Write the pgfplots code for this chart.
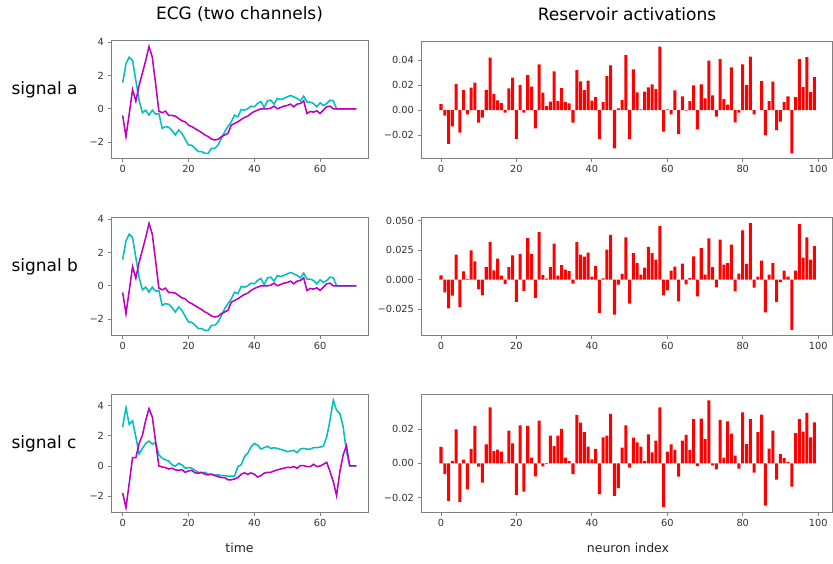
\documentclass[border=0pt]{standalone}
\usepackage{fontspec}
\setmainfont{DejaVu Sans}
\usepackage{pgfplots}
\usepackage{pgfplotstable}
\pgfplotsset{compat=1.18}

\definecolor{ecgcyan}{rgb}{0,0.75,0.75}
\definecolor{ecgmag}{rgb}{0.75,0,0.75}
\definecolor{spine}{gray}{0.5}
\definecolor{ticklab}{gray}{0.2}

% ECG samples: a1/a2 = channels of signal a (signal b uses the same trace), c1/c2 = signal c
\pgfplotstableread{
t a1 a2 c1 c2
0 1.57 -0.40 2.59 -1.80
1 2.70 -1.67 3.85 -2.75
2 3.10 -0.28 2.75 -1.14
3 2.90 1.15 2.99 0.55
4 1.70 0.46 1.93 0.55
5 0.50 1.41 0.79 1.49
6 -0.24 2.15 1.16 2.04
7 -0.08 2.90 1.49 3.03
8 -0.38 3.74 1.65 3.80
9 -0.08 3.10 1.45 3.25
10 -0.32 1.51 1.54 1.60
11 -0.28 -0.14 0.73 0.00
12 -1.17 -0.24 0.51 -0.07
13 -1.07 -0.14 0.40 -0.11
14 -1.11 -0.40 0.33 -0.20
15 -1.31 -0.40 0.07 -0.15
16 -1.57 -0.44 -0.02 -0.26
17 -1.27 -0.58 0.18 -0.29
18 -1.47 -0.72 0.07 -0.24
19 -1.83 -0.78 -0.15 -0.42
20 -2.17 -0.98 -0.11 -0.33
21 -2.19 -1.07 -0.15 -0.29
22 -2.37 -1.19 -0.29 -0.46
23 -2.57 -1.31 -0.42 -0.48
24 -2.57 -1.43 -0.46 -0.42
25 -2.67 -1.57 -0.42 -0.55
26 -2.67 -1.67 -0.55 -0.59
27 -2.37 -1.81 -0.55 -0.55
28 -2.37 -1.87 -0.59 -0.64
29 -2.17 -1.83 -0.59 -0.70
30 -1.77 -1.67 -0.64 -0.77
31 -1.37 -1.57 -0.64 -0.77
32 -1.07 -1.47 -0.68 -0.92
33 -0.78 -0.98 -0.68 -0.92
34 -0.38 -0.88 -0.68 -0.86
35 -0.48 -0.78 -0.04 -0.77
36 -0.04 -0.64 0.07 -0.55
37 -0.08 -0.52 0.62 -0.46
38 0.00 -0.44 0.84 -0.55
39 0.16 -0.28 1.27 -0.46
40 0.12 -0.16 1.49 -0.55
41 0.32 -0.08 1.38 -0.73
42 0.44 0.00 1.12 -0.64
43 0.08 0.00 1.21 -0.48
44 0.48 0.00 1.30 -0.42
45 0.52 0.04 1.16 -0.42
46 0.28 0.16 1.21 -0.33
47 0.62 0.00 1.16 -0.26
48 0.56 0.08 1.10 -0.20
49 0.62 0.16 1.03 -0.15
50 0.72 0.20 0.95 -0.09
51 0.80 0.28 0.99 -0.11
52 0.72 0.12 1.03 -0.04
53 0.62 0.28 0.88 -0.15
54 0.48 0.32 1.12 0.02
55 0.76 0.48 1.16 0.02
56 0.40 -0.28 1.12 -0.04
57 0.40 -0.16 1.12 -0.04
58 0.32 -0.20 1.21 0.11
59 0.12 -0.12 1.21 -0.04
60 0.36 -0.28 1.25 0.00
61 0.20 -0.08 1.32 0.11
62 0.32 0.12 1.93 0.24
63 0.52 0.16 3.03 -0.37
64 0.48 0.00 4.35 -1.03
65 0.00 0.00 3.69 -1.96
66 0.00 0.00 3.47 -0.37
67 0.00 0.00 2.59 0.73
68 0.00 0.00 0.95 1.34
69 0.00 0.00 0.00 0.00
70 0.00 0.00 0.00 0.00
71 0.00 0.00 0.00 0.00
}\ecgdata

% reservoir state per neuron for signals a, b, c
\pgfplotstableread{
idx a b c
0 0.0048 0.0037 0.0096
1 -0.0045 -0.0107 -0.0064
2 -0.0270 -0.0243 -0.0220
3 -0.0130 -0.0136 0.0014
4 0.0210 0.0212 0.0199
5 -0.0180 -0.0232 -0.0228
6 0.0160 0.0071 0.0021
7 -0.0035 0.0006 -0.0152
8 0.0180 0.0249 0.0084
9 0.0220 0.0155 0.0219
10 -0.0100 -0.0082 -0.0020
11 -0.0060 -0.0133 -0.0113
12 0.0160 0.0107 0.0111
13 0.0420 0.0319 0.0328
14 0.0128 0.0079 0.0072
15 0.0077 0.0178 0.0080
16 0.0056 0.0034 0.0068
17 -0.0020 -0.0037 0.0006
18 0.0173 0.0107 0.0191
19 0.0259 0.0206 0.0117
20 -0.0230 -0.0189 -0.0185
21 0.0200 0.0218 0.0222
22 -0.0020 -0.0096 -0.0166
23 0.0280 0.0353 0.0219
24 0.0187 0.0218 0.0033
25 -0.0147 -0.0155 -0.0076
26 0.0365 0.0404 0.0250
27 0.0139 0.0040 -0.0018
28 0.0032 0.0008 -0.0004
29 0.0067 0.0107 0.0162
30 0.0310 0.0305 0.0101
31 0.0072 0.0034 0.0162
32 0.0176 0.0124 0.0201
33 0.0064 0.0085 0.0033
34 0.0053 0.0073 0.0012
35 -0.0100 -0.0034 -0.0064
36 0.0320 0.0319 0.0283
37 0.0229 0.0212 0.0238
38 0.0160 0.0195 0.0183
39 0.0235 0.0229 0.0098
40 0.0075 0.0025 0.0023
41 0.0104 0.0116 0.0084
42 -0.0232 -0.0282 -0.0181
43 0.0064 0.0011 0.0152
44 0.0272 0.0254 0.0162
45 0.0357 0.0380 0.0290
46 -0.0307 -0.0297 -0.0191
47 0.0013 -0.0042 -0.0146
48 0.0080 0.0050 0.0092
49 0.0440 0.0359 0.0222
50 -0.0232 -0.0203 -0.0025
51 0.0325 0.0226 0.0150
52 0.0141 0.0141 0.0123
53 0.0005 0.0042 0.0098
54 0.0147 0.0102 0.0012
55 0.0181 0.0277 0.0170
56 0.0205 0.0226 0.0064
57 0.0168 0.0169 0.0133
58 0.0507 0.0455 0.0327
59 -0.0173 -0.0133 -0.0257
60 0.0005 -0.0090 0.0068
61 -0.0035 0.0076 0.0111
62 0.0157 0.0110 0.0078
63 -0.0192 -0.0184 -0.0078
64 0.0109 0.0136 0.0133
65 -0.0005 -0.0040 0.0166
66 0.0072 0.0014 0.0078
67 0.0197 0.0198 0.0258
68 -0.0155 -0.0141 -0.0016
69 0.0205 0.0268 0.0261
70 0.0093 0.0042 0.0142
71 0.0395 0.0350 0.0369
72 0.0117 0.0107 -0.0012
73 -0.0053 -0.0065 -0.0035
74 0.0408 0.0339 0.0254
75 0.0088 0.0127 0.0033
76 0.0043 0.0141 0.0246
77 0.0341 0.0297 0.0174
78 -0.0099 -0.0099 0.0045
79 -0.0021 0.0051 -0.0031
80 0.0365 0.0418 0.0298
81 0.0200 0.0133 0.0113
82 0.0427 0.0480 0.0259
83 -0.0035 -0.0068 -0.0055
84 0.0000 0.0025 0.0183
85 0.0232 0.0161 0.0285
86 -0.0203 -0.0277 -0.0248
87 0.0072 0.0042 0.0086
88 0.0227 0.0141 0.0191
89 -0.0160 -0.0189 -0.0095
90 -0.0093 -0.0020 0.0053
91 0.0064 0.0076 0.0031
92 0.0109 0.0025 0.0008
93 -0.0347 -0.0427 -0.0137
94 0.0104 0.0076 0.0176
95 0.0408 0.0472 0.0259
96 0.0184 0.0186 0.0185
97 0.0424 0.0359 0.0295
98 0.0144 0.0169 0.0152
99 0.0264 0.0285 0.0240
}\resdata

\pgfplotsset{
  panel/.style={
    scale only axis, anchor=south west,
    axis line style={spine, line width=1pt},
    tick align=outside, tick pos=left,
    major tick length=3.5pt,
    tick style={spine, line width=0.8pt},
    tick label style={font=\fontsize{9.8}{11}\selectfont, text=ticklab},
    /pgf/number format/assume math mode=true,
    scaled ticks=false,
  },
  ecg/.style={panel, width=257pt, height=117.3pt,
    xmin=-3.55, xmax=74.55, xtick={0,20,40,60},
    ytick={-2,0,2,4}, yticklabels={−2,0,2,4}},
  res/.style={panel, width=411.5pt, height=117.3pt,
    xmin=-5.3, xmax=103.8, xtick={0,20,40,60,80,100}},
  chA/.style={ecgcyan, line width=1.55pt},
  chB/.style={ecgmag, line width=1.55pt},
  act/.style={ybar, bar width=0.8, fill=red, draw=none},
}

\begin{document}
\begin{tikzpicture}
\path (0pt,0pt) rectangle (833pt,563pt);

% column headings and row names
\node[font=\fontsize{17}{20}\selectfont] at (239.5pt,549pt) {ECG (two channels)};
\node[font=\fontsize{17}{20}\selectfont] at (627pt,549pt) {Reservoir activations};
\node[font=\fontsize{17}{20}\selectfont, anchor=west] at (8pt,473pt) {signal a};
\node[font=\fontsize{17}{20}\selectfont, anchor=west] at (8pt,296pt) {signal b};
\node[font=\fontsize{17}{20}\selectfont, anchor=west] at (8pt,119pt) {signal c};
\node[font=\fontsize{12.5}{14}\selectfont, text=black!85] at (239.5pt,15pt) {time};
\node[font=\fontsize{12.5}{14}\selectfont, text=black!85] at (628pt,15pt) {neuron index};

% signal a
\begin{axis}[ecg, at={(111pt,404.7pt)}, ymin=-2.97, ymax=4.07]
  \addplot[chA] table[x=t, y=a1] {\ecgdata};
  \addplot[chB] table[x=t, y=a2] {\ecgdata};
\end{axis}
\begin{axis}[res, at={(421pt,404.7pt)}, ymin=-0.0386, ymax=0.0552,
    ytick={-0.02,0,0.02,0.04}, yticklabels={−0.02,0.00,0.02,0.04}]
  \addplot[act] table[x=idx, y=a] {\resdata};
\end{axis}

% signal b
\begin{axis}[ecg, at={(111pt,227.7pt)}, ymin=-2.97, ymax=4.07]
  \addplot[chA] table[x=t, y=a1] {\ecgdata};
  \addplot[chB] table[x=t, y=a2] {\ecgdata};
\end{axis}
\begin{axis}[res, at={(421pt,227.7pt)}, ymin=-0.0472, ymax=0.0523,
    ytick={-0.025,0,0.025,0.05}, yticklabels={−0.025,0.000,0.025,0.050}]
  \addplot[act] table[x=idx, y=b] {\resdata};
\end{axis}

% signal c
\begin{axis}[ecg, at={(111pt,50.7pt)}, ymin=-3.07, ymax=4.70]
  \addplot[chA] table[x=t, y=c1] {\ecgdata};
  \addplot[chB] table[x=t, y=c2] {\ecgdata};
\end{axis}
\begin{axis}[res, at={(421pt,50.7pt)}, ymin=-0.0287, ymax=0.0400,
    ytick={-0.02,0,0.02}, yticklabels={−0.02,0.00,0.02}]
  \addplot[act] table[x=idx, y=c] {\resdata};
\end{axis}
\end{tikzpicture}
\end{document}
